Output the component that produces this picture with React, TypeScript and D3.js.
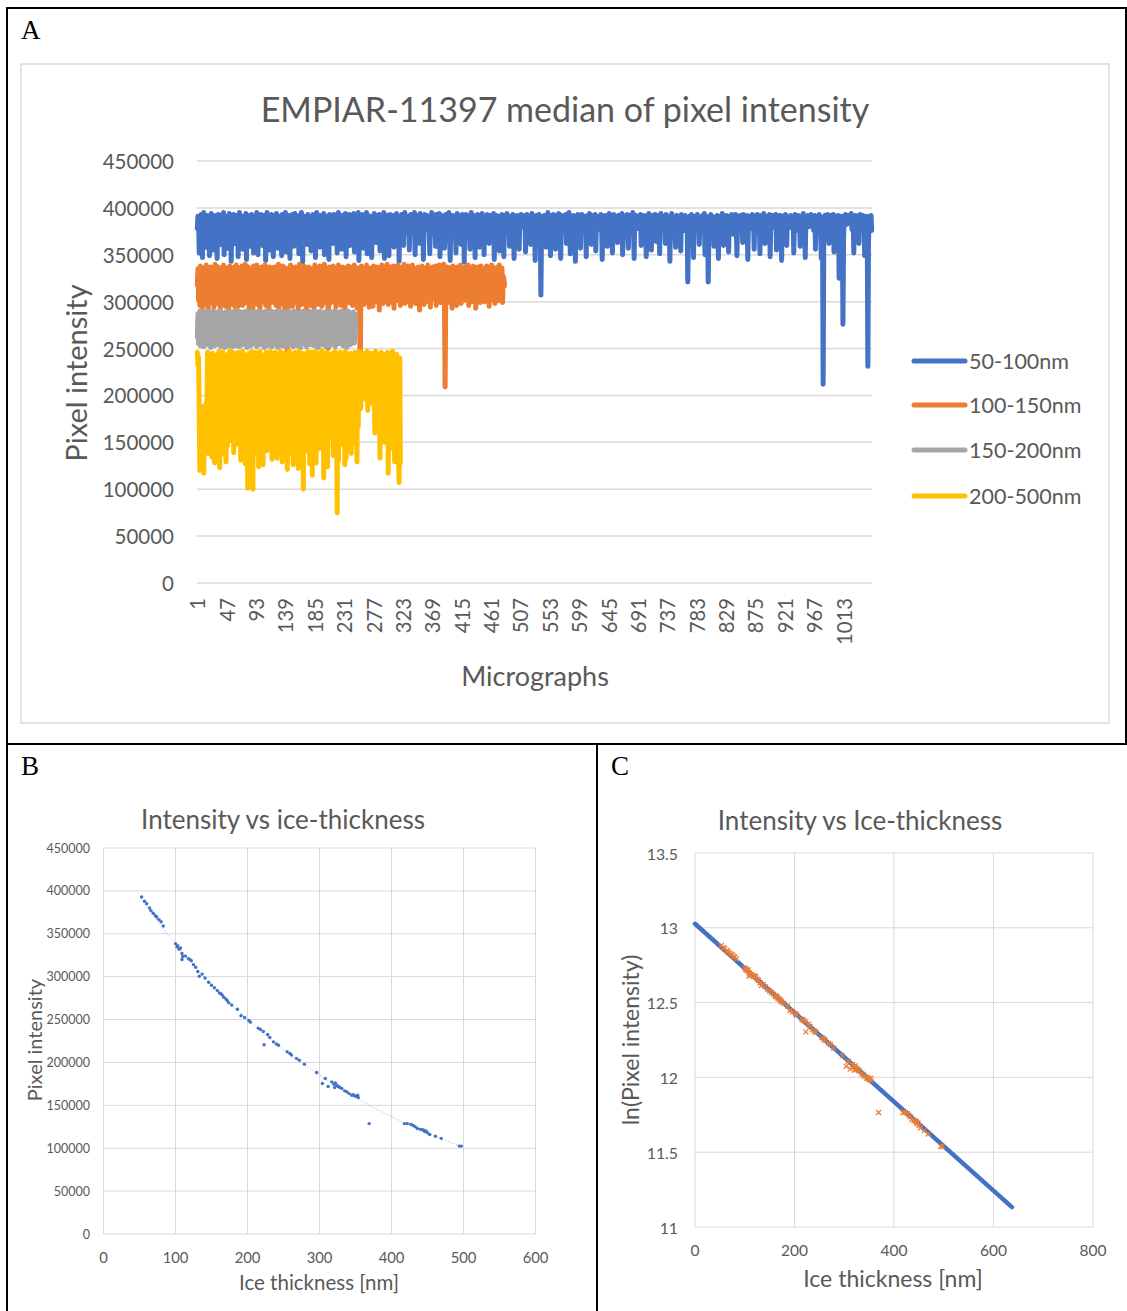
import React from "react";
import * as d3 from "d3";

// ---------------- Panel A data (values in thousands of pixel-intensity units) ----------------
const UNIT = 1000;
const seriesNames = ["50-100nm", "100-150nm", "150-200nm", "200-500nm"];
const seriesColors = ["#4472C4", "#ED7D31", "#A5A5A5", "#FFC000"];

const blue50to100 = [
378,391,385,352,389,374,393,381,347,386,395,377,384,390,358,379,392,386,373,349,388,382,394,376,387,355,390,383,371,392,
385,346,380,393,389,375,361,387,392,379,384,395,350,378,388,391,383,372,357,389,394,380,386,343,376,390,385,393,381,362,
388,374,392,386,348,383,395,379,390,377,385,356,391,382,373,389,394,345,380,387,392,384,376,359,390,393,381,386,352,378,
391,385,372,395,387,350,382,390,376,388,393,381,360,386,374,392,389,344,383,395,378,387,391,355,384,376,393,388,380,348,
387,392,378,385,394,371,357,389,383,391,376,386,349,393,380,388,374,390,395,353,382,387,379,392,385,346,390,377,384,393,
381,359,388,394,376,383,390,372,387,351,392,385,379,395,388,342,384,391,377,389,373,386,361,393,380,387,390,374,354,389,
384,393,378,387,391,347,383,395,376,389,385,380,358,392,387,374,390,382,394,350,386,379,391,384,372,389,345,393,385,377,
390,386,362,380,393,388,375,391,384,352,387,395,379,383,390,373,356,389,392,381,386,376,394,348,385,390,378,387,393,360,
382,389,376,392,385,394,353,387,381,390,374,386,395,344,383,391,378,388,372,393,357,384,390,387,379,395,351,386,392,375,
388,391,383,347,390,378,386,394,380,385,363,392,387,376,389,393,354,381,388,374,391,385,395,346,383,390,379,387,392,371,
349,386,393,381,389,375,392,384,358,390,387,379,394,383,372,388,343,391,385,377,393,386,380,360,389,395,382,387,374,391,
384,390,355,388,393,379,386,372,391,384,395,350,382,389,376,392,385,388,362,394,381,387,373,390,345,386,393,380,389,377,
392,383,388,374,351,390,386,395,379,384,391,372,387,359,393,382,389,376,385,394,348,388,381,392,377,386,390,357,384,393,
379,387,391,383,395,366,344,389,385,378,392,386,374,390,383,352,387,394,380,389,376,391,385,361,388,393,379,386,342,390,
386,393,377,389,384,391,373,356,388,395,382,387,379,392,384,347,390,386,374,393,381,388,358,391,385,377,394,383,389,350,
391,384,389,376,393,380,387,362,385,392,378,390,386,373,394,345,383,389,381,392,376,388,385,354,391,387,379,393,384,369,
348,388,392,381,386,394,377,390,383,359,387,391,375,389,393,382,346,386,390,378,384,392,387,372,356,389,385,393,380,388,
392,379,386,390,353,384,393,388,376,391,385,380,361,389,394,383,387,374,390,344,386,392,381,388,377,393,385,380,307,372,
389,391,384,378,392,386,358,390,383,395,387,376,389,349,384,392,388,380,393,375,386,356,391,384,389,372,394,381,387,346,
385,392,380,389,374,391,386,393,362,384,388,379,395,386,351,390,383,387,376,392,385,389,343,386,391,378,393,384,388,373,
357,389,393,382,387,376,391,384,390,348,386,392,379,388,394,383,375,361,389,386,392,380,387,393,354,385,390,377,384,391,
386,378,393,389,345,384,390,387,376,392,385,388,359,391,383,394,380,387,372,390,352,386,393,384,389,377,391,385,363,388,
392,385,380,390,387,394,350,383,389,378,391,386,384,393,374,357,388,392,381,387,390,376,395,384,346,389,386,392,380,385,
378,391,388,384,393,360,387,380,390,385,392,373,389,348,384,391,386,394,379,388,383,355,390,387,392,376,386,393,382,364,
389,384,392,386,351,388,394,380,387,391,377,385,390,362,393,384,388,376,391,385,343,389,382,394,386,379,390,387,374,358,
387,392,383,389,378,391,386,354,393,384,388,380,390,376,392,387,385,389,321,366,384,391,387,379,393,382,388,347,390,385,
391,386,379,393,385,389,361,384,390,387,376,392,383,388,394,350,386,391,380,387,321,372,389,384,393,378,388,391,385,359,
384,390,388,376,392,385,346,389,383,391,387,379,394,386,360,390,384,388,375,392,381,387,353,391,385,389,378,393,384,372,
390,383,387,393,378,349,388,391,385,384,392,376,389,386,363,393,381,388,390,374,386,392,345,385,389,383,391,378,387,393,
380,388,356,391,385,389,376,393,384,387,390,351,386,392,379,388,384,394,373,362,389,386,391,383,388,377,393,348,385,390,
387,392,384,379,391,386,393,355,388,383,390,376,387,392,385,344,389,391,381,388,386,393,374,360,390,384,389,387,379,392,
385,389,383,391,352,387,393,378,386,390,384,392,375,388,359,391,385,389,382,394,377,386,347,390,388,383,392,386,380,391,
388,393,381,387,390,376,385,392,356,389,384,391,386,379,393,382,388,346,390,385,212,370,389,392,384,387,381,393,386,362,
390,384,388,392,379,386,393,353,387,385,391,383,389,376,392,325,371,388,384,391,386,276,369,390,387,393,382,389,385,392,
386,391,383,389,394,377,385,390,352,388,384,392,387,380,391,386,362,389,393,384,388,379,392,385,390,349,387,384,391,386,
231,362,388,391,384,392,376
];

const orange100to150 = [
318,335,301,328,296,338,309,331,293,325,336,304,330,297,339,314,327,291,334,306,322,337,299,329,311,336,294,326,340,303,
332,298,321,337,307,329,292,335,316,326,300,339,312,331,295,324,336,305,333,290,328,338,302,323,334,297,330,310,337,294,
327,339,306,333,295,322,336,301,329,313,338,296,331,308,325,340,299,334,311,320,337,293,330,304,335,318,327,291,338,309,
334,302,326,339,297,331,315,336,292,328,305,337,321,300,333,310,339,296,324,335,303,330,289,337,317,328,299,336,308,332,
301,337,323,296,334,310,329,340,294,326,307,335,319,298,338,312,331,293,327,336,305,240,318,333,297,325,339,309,330,295,
336,311,328,299,337,322,304,333,291,329,340,306,324,335,297,332,314,338,300,326,334,292,330,318,337,303,321,336,296,331,
309,334,325,293,339,316,330,302,336,320,297,333,338,307,327,295,335,312,329,340,299,324,336,304,331,250,322,337,298,328,
335,300,319,338,306,332,327,294,336,313,329,339,301,325,334,296,331,317,337,303,328,292,335,320,298,333,338,308,326,299,
330,337,311,296,334,322,339,305,328,316,293,336,331,300,327,198,310,338,302,333,325,297,336,314,330,339,306,324,335,294,
329,336,303,332,318,295,338,326,309,334,300,330,337,312,323,291,335,328,306,339,317,298,333,324,336,302,329,340,310,297,
335,321,299,337,330,307,326,338,293,332,315,336,301,328,339,305,324,333,296,331,319,337,303,327,340,298,334,312,330,300,
338,308,327,335,295,331,320,339,302,325,336,311,298,333,329,306,337,318,291,334,326,300,338,313,330,297,335,322,304,336,
326,339,300,333,317,294,336,329,308,337,321,303,332,338,296,328,315,335,302,339,324,299,331,336,310,327,340,297,209,305,
334,320,337,299,329,336,306,331,316,293,338,325,302,335,330,311,296,337,322,333,305,328,339,298,332,318,336,301,327,310,
337,303,331,324,339,296,333,315,328,336,300,322,338,307,330,335,293,327,319,337,302,334,326,299,338,311,329,336,304,332,
300,335,320,338,307,329,333,295,337,316,326,339,302,331,323,336,298,328,334,310,337,301,325,339,306,332,318,336,299,327,
325,317
];

const gray150to200 = [
262,287,255,284,290,253,286,259,283,289,252,285,288,256,283,290,254,287,260,284,289,251,286,283,257,290,285,253,288,258,
284,289,254,286,283,259,290,252,285,288,256,283,287,251,289,284,258,286,290,253,283,288,257,285,289,252,287,284,260,290,
253,286,289,257,283,290,252,285,287,259,284,289,254,288,283,256,290,285,251,287,284,258,289,286,253,283,290,257,285,288,
255,284,289,252,287,283,260,290,286,254,285,288,257,283,289,251,286,290,256,284,287,253,289,285,259,283,290,252,288,286,
258,283,289,254,286,290,251,287,284,257,289,285,253,290,283,260,286,288,252,285,289,256,284,290,254,287,283,259,288,285,
252,290,286,257,284,289,253,287,283,260,288,285,251,289,286,255,283,290,258,285,288,252,286,284,259,290,287,254,283,289,
256,285,288,253,290,284,259,286,289,251,287,283,257,290,285,254,288,284,260,286,289,252,283,290,256,287,285,253,289,284,
258,289,283,254,287,290,252,285,288,257,284,289,255,286,283,259,290,287,253,285,288,256,284,289,251,286,290,258,283,287,
254,288,285,259,289,283,256,287,270
];

const yellow200to500 = [
246,232,241,180,120,176,165,152,178,188,117,170,160,184,192,175,246,138,240,230,244,142,228,134,245,151,241,128,235,150,
243,205,238,168,247,123,240,141,233,155,246,214,137,241,160,129,236,146,244,175,229,248,152,240,174,222,246,139,237,166,
244,148,238,157,246,212,170,241,131,233,162,247,144,229,240,127,211,243,178,101,236,245,164,239,143,247,185,100,231,242,
181,246,139,237,158,244,124,228,247,169,235,213,239,126,243,185,230,160,246,141,238,152,241,211,247,176,233,132,245,167,
240,146,246,182,229,133,244,171,238,215,247,159,236,129,241,168,245,142,232,136,243,121,239,163,248,138,230,177,244,194,
126,238,173,246,139,231,160,243,122,247,214,236,167,241,134,245,100,229,184,244,156,239,141,247,172,233,127,242,164,246,
115,234,137,243,161,247,128,230,176,241,143,245,158,237,212,248,169,232,112,244,146,238,165,246,124,231,178,243,156,240,
209,161,245,136,236,170,247,142,230,75,242,130,239,157,246,215,233,174,244,147,238,126,247,133,229,164,243,207,236,171,
245,138,232,180,149,241,211,246,176,237,129,244,167,230,218,247,186,239,204,233,245,210,238,196,243,228,247,184,240,215,
236,201,245,222,239,191,244,213,160,247,226,235,196,243,218,240,133,229,246,188,241,172,237,150,244,205,231,166,246,117,
238,176,245,143,233,198,247,158,240,129,236,186,244,165,231,139,107,240,128
];

const seriesA = [blue50to100, orange100to150, gray150to200, yellow200to500];
const yTicksA = [0, 50000, 100000, 150000, 200000, 250000, 300000, 350000, 400000, 450000];
const xLabelStep = 46;

// ---------------- Panel B / C data ----------------
const bThickness = [
53,57,60,64,66,69,72,74,77,80,83,100,102,103,105,107,109,109,110,114,118,120,122,125,128,131,133,137,141,146,150,154,158,161,163,165,167,170,172,174,178,186,191,196,202,204,215,218,222,223,228,231,236,240,243,255,259,261,268,272,279,296,304,308,312,317,320,321,322,324,326,328,331,335,338,341,345,347,349,351,353,354,369,418,422,427,430,433,436,440,443,445,446,448,450,453,461,469,494,497
];
const bIntensity = [
392900,387900,385000,380000,377000,374000,371000,369500,366500,364000,359000,338500,334700,336000,332000,333500,327000,320000,323500,324000,321000,320000,318500,314000,311000,306000,300500,303000,298500,293500,290000,287000,284000,281000,280000,278500,276000,274000,272000,269500,267000,262000,254500,252500,249000,247000,240000,238500,236000,220700,232500,229000,224000,221500,220000,212500,210500,208600,204700,202700,198000,188300,175400,181300,172000,177400,174700,170800,176000,173500,172000,171000,169600,166900,165700,163700,161800,162500,161000,160500,161800,159000,128700,128700,128700,128000,126500,125000,123000,122000,121500,121000,119500,120000,118000,116000,114000,111500,102500,102500
];
const cLineThickness = [0, 637];
const cLineLnIntensity = [13.027, 11.133];

const xTicksB = [0, 100, 200, 300, 400, 500, 600];
const yTicksB = [0, 50000, 100000, 150000, 200000, 250000, 300000, 350000, 400000, 450000];
const xTicksC = [0, 200, 400, 600, 800];
const yTicksC = [11, 11.5, 12, 12.5, 13, 13.5];

const FONT = "Lato, 'Open Sans', sans-serif";
const TXT = "#595959";
const GRID = "#d9d9d9";

export default function App() {
  // ---- Panel A ----
  const nA = blue50to100.length;
  const xA = d3.scaleLinear().domain([-0.5, nA - 0.5]).range([197, 872]);
  const yA = d3.scaleLinear().domain([0, 450000]).range([583, 161]);
  const lineA = d3
    .line<number>()
    .x((_, i) => xA(i))
    .y((v) => yA(v * UNIT));
  const xLabelIdx = d3.range(0, nA, xLabelStep);

  // ---- Panel B ----
  const xB = d3.scaleLinear().domain([0, 600]).range([103.5, 535.5]);
  const yB = d3.scaleLinear().domain([0, 450000]).range([1234, 848]);
  // exponential trendline fitted to the data (least squares on ln)
  const lnB = bIntensity.map((v) => Math.log(v));
  const mt = d3.mean(bThickness)!;
  const ml = d3.mean(lnB)!;
  let sxy = 0,
    sxx = 0;
  bThickness.forEach((t, i) => {
    sxy += (t - mt) * (lnB[i] - ml);
    sxx += (t - mt) * (t - mt);
  });
  const slope = sxy / sxx;
  const icpt = ml - slope * mt;
  const [tMin, tMax] = d3.extent(bThickness) as [number, number];
  const trendPts = d3.range(tMin, tMax + 0.1, (tMax - tMin) / 60);
  const trendPath = d3
    .line<number>()
    .x((t) => xB(t))
    .y((t) => yB(Math.exp(icpt + slope * t)))(trendPts);

  // ---- Panel C ----
  const xC = d3.scaleLinear().domain([0, 800]).range([695, 1093]);
  const yC = d3.scaleLinear().domain([11, 13.5]).range([1227, 853]);
  const cLine = d3
    .line<number>()
    .x((t) => xC(t))
    .y((_, i) => yC(cLineLnIntensity[i]))(cLineThickness);

  return (
    <svg
      width={1127}
      height={1311}
      style={{ position: "absolute", left: 0, top: 0, background: "#fff" }}
      fontFamily={FONT}
    >
      <rect x={0} y={0} width={1127} height={1311} fill="#fff" />
      {/* table borders */}
      <g stroke="#000" strokeWidth={2}>
        <line x1={6} y1={8} x2={1127} y2={8} />
        <line x1={7} y1={7} x2={7} y2={1311} />
        <line x1={1126} y1={7} x2={1126} y2={744} />
        <line x1={6} y1={744} x2={1127} y2={744} />
        <line x1={597} y1={744} x2={597} y2={1311} />
      </g>
      <g fontFamily="'Liberation Serif', 'DejaVu Serif', serif" fontSize={27} fill="#000">
        <text x={21} y={39}>A</text>
        <text x={21} y={775}>B</text>
        <text x={611} y={775}>C</text>
      </g>

      {/* ================= Panel A ================= */}
      <rect x={21} y={64} width={1088} height={659} fill="none" stroke={GRID} strokeWidth={1.5} />
      <text x={565} y={108} textAnchor="middle" dominantBaseline="central" fontSize={34} fill={TXT}>
        EMPIAR-11397 median of pixel intensity
      </text>
      {yTicksA.map((t) => (
        <g key={t}>
          <line x1={197} x2={872} y1={yA(t)} y2={yA(t)} stroke={GRID} strokeWidth={1.5} />
          <text x={174} y={yA(t)} textAnchor="end" dominantBaseline="central" fontSize={20.5} fill={TXT}>
            {t}
          </text>
        </g>
      ))}
      {xLabelIdx.map((i) => (
        <text
          key={i}
          transform={`translate(${xA(i)},598) rotate(-90)`}
          textAnchor="end"
          dominantBaseline="central"
          fontSize={20.3}
          fill={TXT}
        >
          {i + 1}
        </text>
      ))}
      {seriesA.map((s, k) => (
        <path
          key={k}
          d={lineA(s) || ""}
          fill="none"
          stroke={seriesColors[k]}
          strokeWidth={5}
          strokeLinejoin="round"
          strokeLinecap="round"
        />
      ))}
      <text
        transform="translate(75,373) rotate(-90)"
        textAnchor="middle"
        dominantBaseline="central"
        fontSize={29}
        fill={TXT}
      >
        Pixel intensity
      </text>
      <text x={535} y={675} textAnchor="middle" dominantBaseline="central" fontSize={27} fill={TXT}>
        Micrographs
      </text>
      {seriesNames.map((nm, k) => {
        const ly = [361, 405, 450, 496][k];
        return (
          <g key={nm}>
            <line x1={914} x2={965} y1={ly} y2={ly} stroke={seriesColors[k]} strokeWidth={5} strokeLinecap="round" />
            <text x={969} y={ly} dominantBaseline="central" fontSize={21.5} fill={TXT}>
              {nm}
            </text>
          </g>
        );
      })}

      {/* ================= Panel B ================= */}
      <text x={283} y={819} textAnchor="middle" dominantBaseline="central" fontSize={26} fill={TXT}>
        Intensity vs ice-thickness
      </text>
      {yTicksB.map((t) => (
        <g key={t}>
          <line x1={103.5} x2={535.5} y1={yB(t)} y2={yB(t)} stroke={GRID} strokeWidth={1} />
          <text x={90} y={yB(t)} textAnchor="end" dominantBaseline="central" fontSize={12.5} fill={TXT}>
            {t}
          </text>
        </g>
      ))}
      {xTicksB.map((t) => (
        <g key={t}>
          <line x1={xB(t)} x2={xB(t)} y1={848} y2={1234} stroke={GRID} strokeWidth={1} />
          <text x={xB(t)} y={1257} textAnchor="middle" dominantBaseline="central" fontSize={14.8} fill={TXT}>
            {t}
          </text>
        </g>
      ))}
      <path d={trendPath || ""} fill="none" stroke="#4472C4" strokeWidth={0.8} strokeDasharray="1,2" opacity={0.7} />
      {bThickness.map((t, i) => (
        <circle key={i} cx={xB(t)} cy={yB(bIntensity[i])} r={1.7} fill="#4472C4" />
      ))}
      <text x={319} y={1282} textAnchor="middle" dominantBaseline="central" fontSize={20.5} fill={TXT}>
        Ice thickness [nm]
      </text>
      <text
        transform="translate(34,1040) rotate(-90)"
        textAnchor="middle"
        dominantBaseline="central"
        fontSize={20}
        fill={TXT}
      >
        Pixel intensity
      </text>

      {/* ================= Panel C ================= */}
      <text x={860} y={820} textAnchor="middle" dominantBaseline="central" fontSize={26} fill={TXT}>
        Intensity vs Ice-thickness
      </text>
      {yTicksC.map((t) => (
        <g key={t}>
          <line x1={695} x2={1093} y1={yC(t)} y2={yC(t)} stroke={GRID} strokeWidth={1} />
          <text x={678} y={yC(t)} textAnchor="end" dominantBaseline="central" fontSize={15.8} fill={TXT}>
            {t}
          </text>
        </g>
      ))}
      {xTicksC.map((t) => (
        <g key={t}>
          <line x1={xC(t)} x2={xC(t)} y1={853} y2={1227} stroke={GRID} strokeWidth={1} />
          <text x={xC(t)} y={1250} textAnchor="middle" dominantBaseline="central" fontSize={15.5} fill={TXT}>
            {t}
          </text>
        </g>
      ))}
      <path d={cLine || ""} fill="none" stroke="#4472C4" strokeWidth={4.5} strokeLinecap="round" />
      {bThickness.map((t, i) => (
        <path
          key={i}
          transform={`translate(${xC(t)},${yC(Math.log(bIntensity[i]))})`}
          d="M-2.5,-2.5L2.5,2.5M-2.5,2.5L2.5,-2.5"
          stroke="#ED7D31"
          strokeWidth={1.3}
          fill="none"
        />
      ))}
      <text x={893} y={1278} textAnchor="middle" dominantBaseline="central" fontSize={23} fill={TXT}>
        Ice thickness [nm]
      </text>
      <text
        transform="translate(630,1040) rotate(-90)"
        textAnchor="middle"
        dominantBaseline="central"
        fontSize={23}
        fill={TXT}
      >
        ln(Pixel intensity)
      </text>
    </svg>
  );
}
